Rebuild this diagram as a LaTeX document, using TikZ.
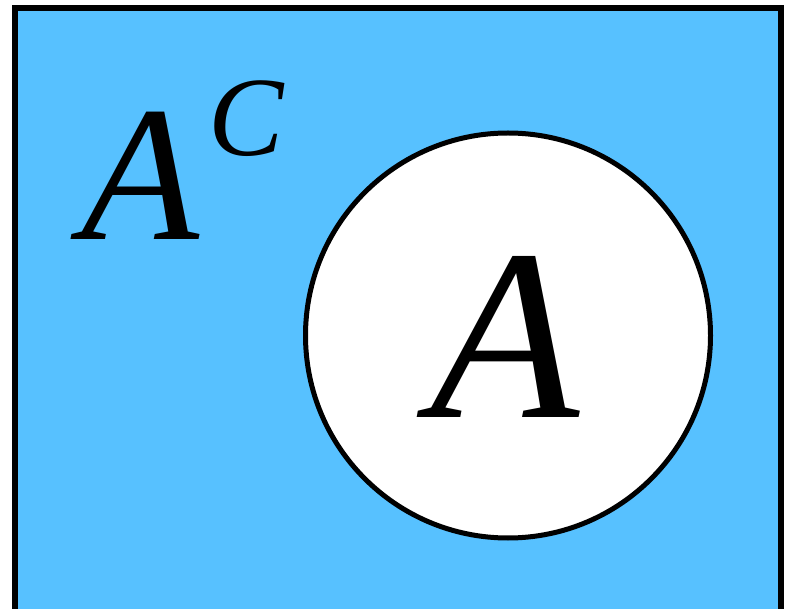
\documentclass[tikz,border=0pt]{standalone}
\usepackage{fontspec}
\setmainfont{Liberation Serif}
\usepackage{xcolor}
\definecolor{skyfill}{RGB}{87,193,255}
\tikzset{
  universe/.style={draw=black, line width=5.5pt, fill=skyfill},
  setcircle/.style={draw=black, line width=5pt, fill=white, circle, minimum size=405pt, inner sep=0pt},
  biglabel/.style={inner sep=0pt, font=\fontsize{244}{244}\selectfont\itshape},
  complabel/.style={inner sep=0pt, font=\fontsize{193}{193}\selectfont\itshape}
}
\begin{document}
\begin{tikzpicture}[x=1pt,y=1pt]
  \useasboundingbox (0,0) rectangle (792,608);
  \clip (0,0) rectangle (792,608);
  % sample space
  \draw[universe] (15,-4) rectangle (781,600);
  % the set A
  \node[setcircle] (setA) at (508,272.5) {};
  \node[biglabel, anchor=base] (nameA) at (505,190) {A};
  % its complement
  \node[complabel, anchor=base west] (nameAc) at (81,368) {A\hspace{9pt}\raisebox{84pt}{\fontsize{113}{113}\selectfont C}};
\end{tikzpicture}
\end{document}
